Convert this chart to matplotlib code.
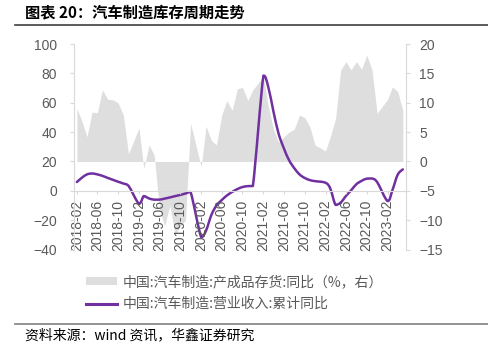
import numpy as np
import pandas as pd
import matplotlib
matplotlib.use('Agg')
import matplotlib.pyplot as plt
import matplotlib.dates as mdates
from matplotlib.lines import Line2D
from matplotlib.path import Path
from matplotlib.patches import PathPatch

# monthly data, January has no value (Jan-Feb reported together)
months = pd.date_range('2018-02-01', '2023-05-01', freq='MS')
dates = months[months.month != 1]

# 中国:汽车制造:营业收入:累计同比 (left axis)
revenue_yoy = [
    6.0, 8.8, 11.2, 11.8, 11.2, 10.2, 8.8, 7.5, 6.2, 5.0, 3.5,
    -8.8, -3.6, -5.2, -6.0, -6.0, -5.3, -4.5, -3.6, -2.8, -1.8, -0.8,
    -31.5, -27.0, -16.5, -10.0, -6.3, -3.2, -0.8, 1.2, 2.6, 3.2, 3.3,
    78.5, 71.0, 54.0, 39.0, 29.0, 21.0, 15.5, 11.2, 8.8, 7.3, 6.6,
    5.5, 1.5, -9.6, -8.0, -3.5, 0.3, 4.5, 6.8, 8.3, 8.4, 6.0,
    -7.0, 0.5, 11.0, 14.6,
]

# 中国:汽车制造:产成品存货:同比 (right axis)
inventory_yoy = [
    9.0, 7.0, 4.2, 8.4, 8.3, 12.2, 10.6, 10.5, 10.0, 7.9, 1.3,
    5.7, -1.2, 2.8, 1.1, -8.0, -11.0, -7.5, -12.5, -11.0, -10.0, 6.5,
    -0.9, 6.0, 3.6, 2.8, 7.9, 10.4, 8.7, 12.4, 12.6, 10.4, 12.2,
    14.5, 9.5, 5.5, 3.3, 4.2, 5.0, 5.5, 7.9, 7.5, 5.9, 2.8,
    1.8, 4.2, 7.3, 15.6, 17.0, 15.6, 17.0, 15.7, 18.1, 15.6, 8.2,
    10.6, 12.7, 11.9, 8.7,
]

label_inv = '中国:汽车制造:产成品存货:同比（%，右）'
label_rev = '中国:汽车制造:营业收入:累计同比'

tick_dates = pd.date_range('2018-02-01', '2023-02-01', freq='4MS')

cjk = ['Noto Sans CJK SC', 'DejaVu Sans']
grey_txt = '#595959'
spine_c = '#d9d9d9'
purple = '#7030a0'
area_c = '#dedede'


def smooth_path(x, y):
    # smoothed line: bezier segments through every point, control points
    # kept between the two ends so the curve doesn't overshoot
    pts = np.column_stack([x, y])
    n = len(pts)
    verts = [pts[0]]
    codes = [Path.MOVETO]
    for i in range(n - 1):
        p0 = pts[max(i - 1, 0)]
        p1 = pts[i]
        p2 = pts[i + 1]
        p3 = pts[min(i + 2, n - 1)]
        c1 = p1 + (p2 - p0) / 6
        c2 = p2 - (p3 - p1) / 6
        lo, hi = min(p1[1], p2[1]), max(p1[1], p2[1])
        c1[1] = np.clip(c1[1], lo, hi)
        c2[1] = np.clip(c2[1], lo, hi)
        verts += [c1, c2, p2]
        codes += [Path.CURVE4] * 3
    return Path(verts, codes)


fig = plt.figure(figsize=(4.89, 3.55), dpi=100)
ax = fig.add_axes([0.151, 0.297, 0.679, 0.579])
ax2 = ax.twinx()
ax.set_zorder(2)
ax2.set_zorder(1)
ax.patch.set_visible(False)

ax2.fill_between(dates, 0, inventory_yoy, color=area_c, linewidth=0)
ax.add_patch(PathPatch(smooth_path(mdates.date2num(dates), revenue_yoy),
                       facecolor='none', edgecolor=purple, linewidth=1.8,
                       joinstyle='round', capstyle='round'))

ax.set_ylim(-40, 100)
ax.set_yticks(np.arange(-40, 101, 20))
ax2.set_ylim(-15, 20)
ax2.set_yticks(np.arange(-15, 21, 5))
ax.set_xlim(pd.Timestamp('2018-01-14'), pd.Timestamp('2023-05-19'))
ax.set_xticks(tick_dates)
ax.xaxis.set_major_formatter(mdates.DateFormatter('%Y-%m'))

for a in (ax, ax2):
    for s in a.spines.values():
        s.set_visible(False)
        s.set_color(spine_c)
ax.spines['left'].set_visible(True)
ax.spines['bottom'].set_visible(True)
ax.spines['bottom'].set_position(('data', 0))
ax2.spines['right'].set_visible(True)

ax.tick_params(axis='y', colors=spine_c, labelcolor=grey_txt, length=3, pad=9,
               labelsize=10)
ax2.tick_params(axis='y', colors=spine_c, labelcolor=grey_txt, length=3, pad=6.5,
                labelsize=10)
ax.tick_params(axis='x', colors=spine_c, labelcolor=grey_txt, length=2.5, pad=4,
               labelsize=10, labelrotation=90)
for lab in ax.get_xticklabels() + ax.get_yticklabels() + ax2.get_yticklabels():
    lab.set_fontfamily('Liberation Sans')

handles = [plt.Rectangle((0, 0), 1, 1, facecolor=area_c, edgecolor='none'),
           Line2D([], [], color=purple, linewidth=2.2)]
fig.legend(handles, [label_inv, label_rev], loc='upper left',
           bbox_to_anchor=(0.176, 0.226), frameon=False, borderpad=0,
           borderaxespad=0, handlelength=2.2, handleheight=0.5,
           handletextpad=0.45, labelspacing=0.6,
           prop={'family': cjk, 'size': 10}, labelcolor=grey_txt)

fig.text(0.051, 0.966, '图表 20：汽车制造库存周期走势', family=cjk,
         fontsize=11, fontweight='bold', va='center', ha='left')
fig.add_artist(Line2D([0.031, 1.0], [0.930, 0.930], color='#404040',
                      linewidth=1.2, transform=fig.transFigure))
fig.add_artist(Line2D([0.031, 1.0], [0.087, 0.087], color='#808080',
                      linewidth=1.2, transform=fig.transFigure))
fig.text(0.051, 0.056, '资料来源：wind 资讯，华鑫证券研究', family=cjk,
         fontsize=10, va='center', ha='left')

fig.savefig('out.png', dpi=100)
